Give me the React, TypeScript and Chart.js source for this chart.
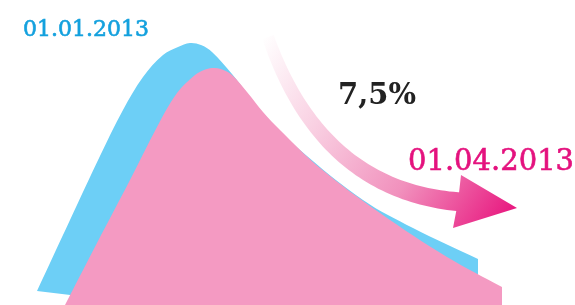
import React, { useEffect, useRef } from "react";
import { Chart, registerables } from "chart.js";

Chart.register(...registerables);

// Horizontal position of each sampled point (0..575) and height above the bottom (0..305)
const blueX = [37, 70, 100, 123, 143, 163, 178, 190, 201, 212, 232, 263, 300, 363, 413, 478];
const blueY = [14, 85, 149, 195, 228, 250, 258, 262, 260, 253, 231, 192, 155, 105, 77, 46];

const pinkX = [65, 97, 130, 157, 177, 195, 204, 212, 221, 232, 247, 263, 280, 320, 380, 447, 502];
const pinkY = [0, 62, 125, 178, 212, 230, 235, 237, 236, 230, 213, 193, 175, 137, 92, 48, 18];

// lower edge of the blue shape (mostly hidden behind pink)
const baseX = [37, 478];
const baseY = [14, -39];

const labelStart = "01.01.2013";
const labelEnd = "01.04.2013";
const labelChange = "7,5%";

const toPoints = (xs: number[], ys: number[]) => xs.map((x, i) => ({ x, y: ys[i] }));

const overlayPlugin = {
  id: "overlay",
  afterDraw(chart: any) {
    const ctx = chart.ctx as CanvasRenderingContext2D;
    const xs = chart.scales.x;
    const ys = chart.scales.y;
    const P = (x: number, h: number) => [xs.getPixelForValue(x), ys.getPixelForValue(h)];
    ctx.save();
    // curved arrow
    const [sx, sy] = P(268, 268);
    const [cx, cy] = P(322, 113);
    const [ex, ey] = P(462, 103);
    const n = 60;
    const upper: number[][] = [];
    const lower: number[][] = [];
    for (let i = 0; i <= n; i++) {
      const t = i / n;
      const bx = (1 - t) * (1 - t) * sx + 2 * t * (1 - t) * cx + t * t * ex;
      const by = (1 - t) * (1 - t) * sy + 2 * t * (1 - t) * cy + t * t * ey;
      const dx = 2 * (1 - t) * (cx - sx) + 2 * t * (ex - cx);
      const dy = 2 * (1 - t) * (cy - sy) + 2 * t * (ey - cy);
      const len = Math.hypot(dx, dy) || 1;
      const nx = -dy / len;
      const ny = dx / len;
      const w = (12 + 7 * t) / 2;
      upper.push([bx - nx * w, by - ny * w]);
      lower.push([bx + nx * w, by + ny * w]);
    }
    const [hx1, hy1] = P(461, 130);
    const [hx2, hy2] = P(517, 97);
    const [hx3, hy3] = P(453, 77);
    const grad = ctx.createLinearGradient(sx - 5, sy, hx2, hy2);
    grad.addColorStop(0, "rgba(255,255,255,1)");
    grad.addColorStop(0.3, "#f9d0e2");
    grad.addColorStop(0.65, "#f191bd");
    grad.addColorStop(1, "#e8177f");
    ctx.fillStyle = grad;
    ctx.beginPath();
    upper.forEach(([x, y], i) => (i ? ctx.lineTo(x, y) : ctx.moveTo(x, y)));
    for (let i = lower.length - 1; i >= 0; i--) ctx.lineTo(lower[i][0], lower[i][1]);
    ctx.closePath();
    ctx.fill();
    ctx.beginPath();
    ctx.moveTo(hx1, hy1);
    ctx.lineTo(hx2, hy2);
    ctx.lineTo(hx3, hy3);
    ctx.lineTo(ex - 4, ey);
    ctx.closePath();
    ctx.fill();

    // texts
    ctx.textBaseline = "alphabetic";
    ctx.textAlign = "left";
    ctx.lineWidth = 0.6;
    ctx.font = "22px 'DejaVu Serif'";
    ctx.fillStyle = "#14a1de";
    ctx.strokeStyle = "#14a1de";
    ctx.fillText(labelStart, 23, 36);
    ctx.strokeText(labelStart, 23, 36);
    ctx.font = "29px 'DejaVu Serif'";
    ctx.fillStyle = "#e4127e";
    ctx.strokeStyle = "#e4127e";
    ctx.fillText(labelEnd, 408, 170);
    ctx.strokeText(labelEnd, 408, 170);
    ctx.font = "bold 29px 'DejaVu Serif'";
    ctx.fillStyle = "#222222";
    ctx.fillText(labelChange, 338, 104);
    ctx.restore();
  },
};

export default function App() {
  const ref = useRef<HTMLCanvasElement | null>(null);
  useEffect(() => {
    if (!ref.current) return;
    const chart = new Chart(ref.current, {
      type: "line",
      data: {
        datasets: [
          {
            data: toPoints(pinkX, pinkY),
            backgroundColor: "#f49ac2",
            borderWidth: 0,
            pointRadius: 0,
            fill: "origin",
            tension: 0.35,
          },
          {
            data: toPoints(blueX, blueY),
            backgroundColor: "#6dcff6",
            borderWidth: 0,
            pointRadius: 0,
            fill: "+1",
            tension: 0.35,
          },
          {
            data: toPoints(baseX, baseY),
            borderWidth: 0,
            pointRadius: 0,
            fill: false,
          },
        ],
      },
      options: {
        animation: false,
        responsive: false,
        layout: { padding: 0 },
        plugins: { legend: { display: false }, tooltip: { enabled: false } },
        scales: {
          x: { type: "linear", min: 0, max: 575, display: false },
          y: { type: "linear", min: 0, max: 305, display: false },
        },
      },
      plugins: [overlayPlugin],
    });
    return () => chart.destroy();
  }, []);
  return (
    <div style={{ position: "fixed", left: 0, top: 0, width: 575, height: 305, background: "#fff" }}>
      <canvas ref={ref} width={575} height={305} />
    </div>
  );
}
